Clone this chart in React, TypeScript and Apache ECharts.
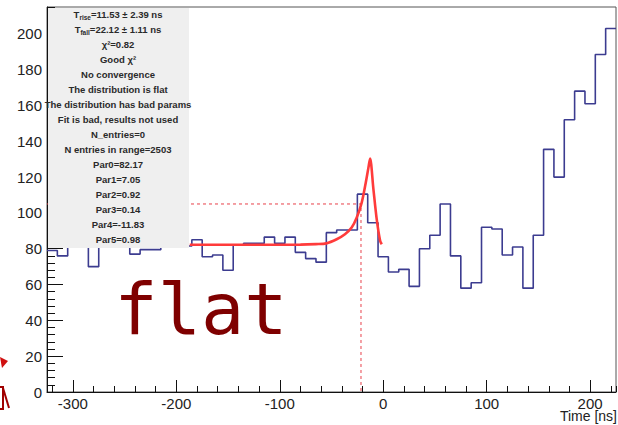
import React, { useEffect, useRef } from "react";
import * as echarts from "echarts";

// ---- data ----
const binStart = -325;
const binWidth = 10;
const counts = [
  79, 76, 88, 92, 70, 95, 85, 84, 77, 79.5, 79.5, 83, 86, 81.5,
  85, 75.5, 76.5, 68, 82, 83, 83, 86.5, 83, 86.5, 78, 74.5, 72.5,
  89, 90.5, 90.5, 110.5, 94.5, 75.5, 67, 68.5, 59, 80, 87.5, 105,
  76, 58, 61, 92, 91, 76.5, 81, 58, 87.5, 135.5, 120, 152, 168,
  161, 188.5, 203,
];
const fitTimes = [-187, -150, -110, -80, -65, -55, -45, -37, -30.5, -25.6, -20.8, -17.5, -14.3, -12.7, -9.5, -6.3, -3, -1.4];
const fitValues = [82.2, 82.2, 82.2, 82.3, 82.6, 83, 85.3, 88.1, 91.8, 97.4, 105.8, 115, 125.3, 130.4, 113.3, 96.5, 84.4, 82.5];
const markerTime = -21.5;
const markerLevel = 105;
const xMin = -325;
const xMax = 225;
const yMin = 0;
const yMax = 215;
const xMajorSplit = 5; // gives a 100 ns step
const xMinorSplit = 27; // gives a 20 ns step
const yMajorStep = 20;
const yMinorStep = 4;
const statLines = [
  "{t|T}{s|rise}{t|=11.53 ± 2.39 ns}",
  "{t|T}{s|fall}{t|=22.12 ± 1.11 ns}",
  "{t|χ²=0.82}",
  "{t|Good χ²}",
  "{t|No convergence}",
  "{t|The distribution is flat}",
  "{t|The distribution has bad params}",
  "{t|Fit is bad, results not used}",
  "{t|N_entries=0}",
  "{t|N entries in range=2503}",
  "{t|Par0=82.17}",
  "{t|Par1=7.05}",
  "{t|Par2=0.92}",
  "{t|Par3=0.14}",
  "{t|Par4=-11.83}",
  "{t|Par5=0.98}",
];
const overlayWord = "flat";
const xTitle = "Time [ns]";

export default function App() {
  const ref = useRef<HTMLDivElement>(null);
  useEffect(() => {
    const chart = echarts.init(ref.current!, null, { renderer: "svg" });
    const histData: number[][] = counts.map((c, i) => [binStart + i * binWidth, c]);
    histData.push([binStart + counts.length * binWidth, counts[counts.length - 1]]);
    const fitData = fitTimes.map((t, i) => [t, fitValues[i]]);
    const markerData = [
      [xMin, markerLevel],
      [markerTime, markerLevel],
      [markerTime, 0],
    ];
    const labelFont = { fontFamily: "Liberation Sans, Arial, sans-serif", fontSize: 15, color: "#222" };
    const tickStyle = { color: "#111", width: 1 };

    const statTexts = statLines.map((s, i) => ({
      type: "text",
      z: 101,
      x: 118,
      y: 14.5 + 15 * i,
      style: {
        text: s,
        align: "center",
        verticalAlign: "middle",
        rich: {
          t: { fontSize: 9.5, fontWeight: "bold", fontFamily: "Liberation Sans, Arial, sans-serif", fill: "#2a2a2a" },
          s: { fontSize: 6.5, fontWeight: "bold", fontFamily: "Liberation Sans, Arial, sans-serif", fill: "#2a2a2a", padding: [5, 0, 0, 0] },
        },
      },
    }));

    chart.setOption({
      animation: false,
      backgroundColor: "#ffffff",
      grid: { left: 47, right: 2, top: 7, bottom: 33, show: true, borderColor: "#555", borderWidth: 1, backgroundColor: "transparent" },
      xAxis: [
        {
          type: "value",
          min: xMin,
          max: xMax,
          splitNumber: xMajorSplit,
          position: "bottom",
          axisLine: { show: true, onZero: false, lineStyle: { color: "#111", width: 1 } },
          axisTick: { show: true, inside: true, length: 12, lineStyle: tickStyle },
          axisLabel: { show: true, showMinLabel: false, showMaxLabel: false, margin: 4, ...labelFont },
          splitLine: { show: false },
        },
        {
          type: "value",
          min: xMin,
          max: xMax,
          splitNumber: xMinorSplit,
          position: "bottom",
          axisLine: { show: false, onZero: false },
          axisTick: { show: true, inside: true, length: 6, lineStyle: tickStyle },
          axisLabel: { show: false },
          splitLine: { show: false },
        },
      ],
      yAxis: [
        {
          type: "value",
          min: yMin,
          max: yMax,
          interval: yMajorStep,
          position: "left",
          axisLine: { show: true, onZero: false, lineStyle: { color: "#111", width: 1 } },
          axisTick: { show: true, inside: true, length: 16, lineStyle: tickStyle },
          axisLabel: { show: true, showMaxLabel: false, margin: 5, ...labelFont },
          splitLine: { show: false },
        },
        {
          type: "value",
          min: yMin,
          max: yMax,
          interval: yMinorStep,
          position: "left",
          axisLine: { show: false, onZero: false },
          axisTick: { show: true, inside: true, length: 8, lineStyle: tickStyle },
          axisLabel: { show: false },
          splitLine: { show: false },
        },
      ],
      series: [
        {
          type: "line",
          name: "markers",
          data: markerData,
          symbol: "none",
          z: 2,
          lineStyle: { color: "#e8404a", width: 1, type: [3, 3] },
        },
        {
          type: "line",
          name: "histogram",
          data: histData,
          step: "end",
          symbol: "none",
          z: 3,
          lineStyle: { color: "#3c3c90", width: 1.6 },
        },
        {
          type: "line",
          name: "fit",
          data: fitData,
          symbol: "none",
          smooth: 0.3,
          z: 4,
          lineStyle: { color: "#ff3b3b", width: 2.6 },
        },
      ],
      graphic: [
        { type: "rect", z: 100, shape: { x: 48, y: 8, width: 141, height: 240 }, style: { fill: "#efefef" } },
        ...statTexts,
        {
          type: "text",
          z: 100,
          x: 201,
          y: 345,
          style: { text: overlayWord, align: "center", verticalAlign: "bottom", fontFamily: "DejaVu Sans Mono, monospace", fontSize: 72, fill: "#7f0000" },
        },
        {
          type: "text",
          z: 100,
          x: 617,
          y: 416,
          style: { text: xTitle, align: "right", verticalAlign: "middle", fontFamily: "Liberation Sans, Arial, sans-serif", fontSize: 14, fill: "#222" },
        },
        { type: "polygon", z: 100, shape: { points: [[0, 357], [8, 361], [2, 368]] }, style: { fill: "#d01010" } },
        {
          type: "polyline",
          z: 100,
          shape: { points: [[0, 387], [3, 387], [3, 409], [0, 409]] },
          style: { stroke: "#a00000", lineWidth: 2, fill: "none" },
        },
        {
          type: "line",
          z: 100,
          shape: { x1: 3, y1: 388, x2: 9, y2: 408 },
          style: { stroke: "#a00000", lineWidth: 2 },
        },
      ],
    });
    return () => chart.dispose();
  }, []);
  return <div ref={ref} style={{ position: "absolute", left: 0, top: 0, width: 618, height: 425 }} />;
}
